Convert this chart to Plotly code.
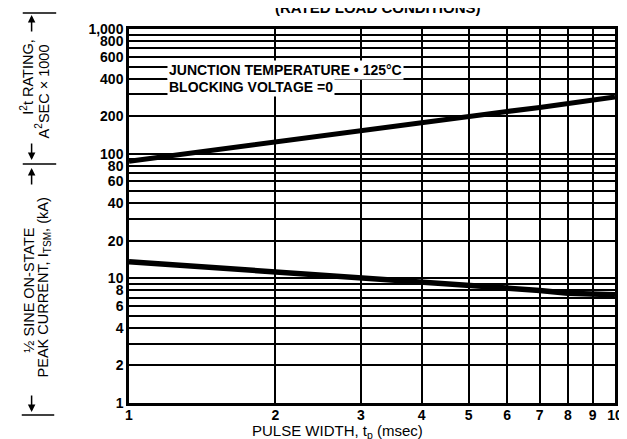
import math
import plotly.graph_objects as go

# ---- data ----
pulse_width_ms = [1, 2, 3, 4, 5, 6, 7, 8, 9, 10]
i2t_rating_x1000 = [87, 125, 152, 180, 200, 218, 235, 252, 268, 285]
peak_current_ka = [13.6, 11.3, 10.1, 9.3, 8.8, 8.5, 8.0, 7.6, 7.5, 7.4]

y_tickvals = [1, 2, 3, 4, 5, 6, 7, 8, 9, 10, 20, 30, 40, 50, 60, 70, 80, 90,
              100, 200, 300, 400, 500, 600, 700, 800, 900, 1000]
y_ticktext = ["1", "2", "", "4", "", "6", "", "8", "", "10", "20", "", "40", "", "60", "", "80", "",
              "100", "200", "", "400", "", "600", "", "800", "", "1,000"]
x_tickvals = [1, 2, 3, 4, 5, 6, 7, 8, 9, 10]
x_ticktext = ["1", "2", "3", "4", "5", "6", "7", "8", "9", "10"]

W, H = 627, 439
L, R, T, B = 121, 12, 21, 44
PW, PH = W - L - R, H - T - B


def px(x):
    return (x - L) / PW


def py(y):
    return (H - B - y) / PH


def ylog(v):
    return math.log10(v) / 3.0


FONT = "Liberation Sans, Arial, sans-serif"

fig = go.Figure()
fig.add_trace(go.Scatter(x=pulse_width_ms, y=i2t_rating_x1000, mode="lines",
                         line=dict(color="black", width=5), showlegend=False))
fig.add_trace(go.Scatter(x=pulse_width_ms, y=peak_current_ka, mode="lines",
                         line=dict(color="black", width=5.5), showlegend=False))

axis_common = dict(showgrid=True, gridcolor="black", gridwidth=1.8,
                   showline=True, linecolor="black", linewidth=2.5, mirror=True,
                   zeroline=False, ticks="", tickfont=dict(family=FONT, size=14, color="black", weight="bold"))
fig.update_xaxes(type="log", range=[0, 1], tickvals=x_tickvals, ticktext=x_ticktext,
                 ticklabelstandoff=-3, **axis_common)
fig.update_yaxes(type="log", range=[0, 3], tickvals=y_tickvals, ticktext=y_ticktext, **axis_common)

ann = []
# in-plot labels
ann.append(dict(x=px(160), y=ylog(470), xref="paper", yref="paper", xanchor="left", yanchor="middle",
                text="JUNCTION TEMPERATURE \u2022 125\u00b0C", showarrow=False, bgcolor="white",
                font=dict(family=FONT, size=14, color="black", weight="bold"), borderpad=1))
ann.append(dict(x=px(160), y=ylog(340), xref="paper", yref="paper", xanchor="left", yanchor="middle",
                text="BLOCKING VOLTAGE =0", showarrow=False, bgcolor="white",
                font=dict(family=FONT, size=14, color="black", weight="bold"), borderpad=1))
# title (cut off at top)
ann.append(dict(x=px(481), y=py(10), xref="paper", yref="paper", xanchor="right", yanchor="bottom",
                text="(RATED LOAD CONDITIONS)", showarrow=False,
                font=dict(family=FONT, size=15, color="black", weight="bold")))
# x axis title
ann.append(dict(x=px(333), y=py(423), xref="paper", yref="paper", xanchor="center", yanchor="middle",
                text="PULSE WIDTH, t<sub>p</sub> (msec)", showarrow=False,
                font=dict(family=FONT, size=15, color="black")))
# left rotated labels
lab_font = dict(family=FONT, size=14.5, color="black")
for text, cx, cy in [("I<sup>2</sup>t RATING,", 17, 69),
                     ("A<sup>2</sup>SEC \u00d7 1000", 33, 83),
                     ("\u00bd SINE ON-STATE", 19, 282),
                     ("PEAK CURRENT, I<sub>TSM</sub>, (kA)", 35, 279)]:
    ann.append(dict(x=px(cx), y=py(cy), xref="paper", yref="paper", xanchor="center", yanchor="middle",
                    text=text, textangle=-90, showarrow=False, font=lab_font))
# arrows
for hx, hy, tail in [(22, 7, 18), (22, 152, -18), (22, 160, 18), (22, 404, -18)]:
    ann.append(dict(x=px(hx), y=py(hy), xref="paper", yref="paper", text="", showarrow=True,
                    ax=0, ay=tail, arrowhead=2, arrowsize=1, arrowwidth=1.5, arrowcolor="black"))

shapes = []
for x0, x1, yy in [(13, 47, 5), (13, 47, 156), (12, 45, 407)]:
    shapes.append(dict(type="line", xref="paper", yref="paper", x0=px(x0), x1=px(x1), y0=py(yy), y1=py(yy),
                       line=dict(color="black", width=1.5)))

fig.update_layout(width=W, height=H, margin=dict(l=L, r=R, t=T, b=B),
                  paper_bgcolor="white", plot_bgcolor="white",
                  annotations=ann, shapes=shapes, showlegend=False)

fig.write_html("out.html")
